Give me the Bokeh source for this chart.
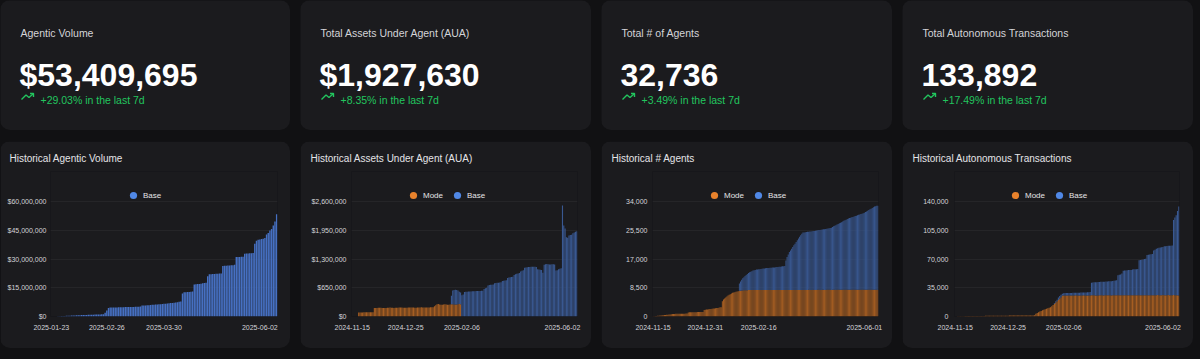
from bokeh.plotting import figure
from bokeh.layouts import row, column
from bokeh.models import (Range1d, FixedTicker, NumeralTickFormatter, Legend,
                          LegendItem, ColumnDataSource)
from bokeh.embed import file_html
from bokeh.resources import INLINE
from bokeh.core.properties import value

# ---------------- data ----------------
card_titles = ["Agentic Volume", "Total Assets Under Agent (AUA)",
               "Total # of Agents", "Total Autonomous Transactions"]
card_values = ["$53,409,695", "$1,927,630", "32,736", "133,892"]
card_changes = ["+29.03% in the last 7d", "+8.35% in the last 7d",
                "+3.49% in the last 7d", "+17.49% in the last 7d"]

chart_titles = ["Historical Agentic Volume", "Historical Assets Under Agent (AUA)",
                "Historical # Agents", "Historical Autonomous Transactions"]
series_names = ["Mode", "Base"]

# Historical Agentic Volume, Base only, daily, USD millions
vol_base_musd = [
    0.10, 0.15, 0.20, 0.25, 0.30, 0.35, 0.40, 0.45, 0.50, 0.55,
    0.58, 0.62, 0.66, 0.70, 0.73, 0.76, 0.80, 0.83, 0.86, 0.90,
    0.93, 0.96, 1.00, 1.03, 1.06, 1.10, 1.13, 1.20,
    1.9, 3.1, 4.5, 4.7,
    4.7, 4.7, 4.75, 4.75, 4.8, 4.8, 4.85, 4.85, 4.9, 4.9, 4.95, 4.95, 5.0, 5.0, 5.05, 5.1, 5.15, 5.2,
    5.7, 5.75, 5.8, 5.85, 5.9, 6.0, 6.1, 6.15, 6.2, 6.3, 6.35, 6.4, 6.5, 6.6, 6.7, 6.8, 6.9, 7.0,
    7.1, 7.2, 7.35, 7.5, 7.65, 7.8,
    12.0, 12.7, 12.7, 12.8, 12.8, 12.9, 13.0,
    16.7, 16.8, 16.9, 17.0, 17.1, 17.3, 17.5, 17.6,
    21.0, 22.1, 22.1, 22.2, 22.2, 22.3, 22.3, 22.4, 22.5,
    26.4, 26.5, 26.5, 26.6, 26.6, 26.7, 26.8, 27.0,
    31.0, 31.1, 31.1, 31.2, 31.2,
    32.8, 32.9, 32.9, 33.0, 33.0, 33.1,
    37.9, 39.5, 40.0, 40.2, 40.4, 40.6, 41.0,
    42.8, 43.6, 44.9, 45.6, 47.5, 49.6, 53.4]
vol_ticks = [-4, 29, 63, 120]
vol_tick_labels = ["2025-01-23", "2025-02-26", "2025-03-30", "2025-06-02"]
vol_y_ticks = [0, 15e6, 30e6, 45e6, 60e6]

# Historical AUA (USD thousands), Mode from index 0, Base from index 71
aua_mode_k = [
    90, 90, 92, 92, 94, 94, 95, 95, 96, 96, 97, 97,
    190, 192, 195, 197, 198, 196, 194, 192, 193, 195,
    198, 200, 201, 199, 197, 195, 196, 198, 200, 202,
    203, 201, 199, 197, 198, 200, 202, 204, 205, 203,
    201, 199, 200, 202, 204, 206, 207, 205, 203, 201,
    202, 204, 206, 208, 209, 210,
    230, 255, 275, 280,
    270, 265, 268, 272, 275, 270, 266, 268, 272, 276, 278, 274, 270, 272, 276, 280, 275]
aua_mode_start = 0
aua_base_k = [
    194, 312, 326, 335, 328, 314, 280, 265,
    480, 500,
    555, 560, 562, 565, 566, 568, 570, 570, 572, 574, 575, 576, 578, 580, 582,
    620, 640, 650,
    700, 710, 716, 720, 725,
    750, 755, 761, 765, 770, 775,
    800, 810, 814, 820,
    870, 880, 889, 895, 900,
    940, 955, 965, 975, 985,
    1020, 1035, 1045,
    1100, 1110, 1115, 1118, 1120, 1122, 1124, 1125, 1125, 1120,
    1070, 1060, 1055, 1050,
    990,
    1170, 1180, 1185, 1180, 1178, 1175, 1180, 1182, 1178,
    1040, 1045,
    1070, 1080, 1090,
    2510,
    2060, 1990,
    1790, 1780,
    1830, 1840, 1850,
    1880, 1900, 1915, 1928]
aua_base_start = 71
aua_ticks = [-5, 36, 79, 156]
aua_tick_labels = ["2024-11-15", "2024-12-25", "2025-02-06", "2025-06-02"]
aua_y_ticks = [0, 650000, 1300000, 1950000, 2600000]

# Historical # Agents, Mode from index 0, Base from index 76
agents_mode = [
    60, 90, 120, 150, 190, 220, 260, 300, 340, 380, 420, 460, 500, 540, 570, 600,
    700, 720, 740, 760, 780, 790, 800, 800, 810, 820, 830, 840, 850, 860, 880,
    1200, 1220, 1240, 1250, 1260, 1270, 1280, 1290, 1300, 1310, 1320, 1330, 1340, 1350,
    1900, 2000, 2050, 2100, 2150, 2200, 2250, 2300, 2350, 2400, 2450, 2500, 2550, 2600, 2700, 2760,
    4500, 5000, 5300, 5600, 5900,
    6200, 6400, 6600, 6800, 7000, 7100, 7200, 7300, 7400, 7500,
    7600, 7650, 7700, 7720, 7740, 7760, 7780, 7790, 7800, 7800,
    7810, 7800, 7820, 7810, 7800, 7830, 7820, 7810, 7800, 7820,
    7830, 7810, 7800, 7820, 7840, 7830, 7810, 7820, 7830, 7840,
    7820, 7810, 7830, 7840, 7850, 7830, 7820, 7840, 7850, 7830,
    7820, 7840, 7850, 7860, 7840, 7830, 7850, 7860, 7840, 7830,
    7850, 7860, 7870, 7850, 7840, 7860, 7870, 7850, 7840, 7860,
    7870, 7880, 7860, 7850, 7870, 7880, 7860, 7850, 7870, 7880,
    7890, 7870, 7860, 7880, 7890, 7870, 7860, 7880, 7890, 7900,
    7880, 7870, 7890, 7900, 7880, 7870, 7890, 7900, 7910, 7890,
    7880, 7900, 7910, 7890, 7880, 7900, 7910, 7920, 7900, 7890,
    7910, 7920, 7900, 7890, 7910, 7920, 7930, 7910, 7900, 7920,
    7930, 7910, 7900, 7920, 7930, 7940, 7920, 7910, 7930, 7940,
    7920, 7900, 7800]
agents_mode_start = 0
agents_base = [
    2150, 2700, 3200, 3600,
    3830, 4200, 4500, 4800, 5050, 5300,
    5450, 5600, 5750, 5850, 5950, 6050,
    6100, 6150, 6200, 6250, 6300, 6350, 6400, 6450, 6500, 6520, 6550, 6600,
    6620, 6650, 6680, 6700, 6750, 6780, 6800, 6850, 6900, 6950, 7000, 7040, 7080,
    8700, 9740, 10500, 11200,
    11700, 12200, 12700, 13200, 13700, 14180,
    14700, 15200, 15700, 16200, 16600, 16940,
    17000, 17050, 17100, 17150, 17200, 17250,
    17300, 17350, 17400, 17450, 17500, 17550,
    17600, 17660, 17720, 17780, 17840, 17900, 17960, 18020, 18080, 18140, 18200, 18300, 18400,
    18580, 18760, 18940, 19120, 19300, 19480, 19660, 19840, 20020, 20200, 20380, 20560,
    20740, 20920, 21100, 21200,
    21300, 21420, 21540, 21660, 21780, 21900, 22020, 22140, 22260, 22380, 22500, 22600,
    22750, 22950, 23150, 23350, 23550, 23750, 23950, 24150, 24350, 24550, 24700, 24850, 24936]
agents_base_start = 76
agents_ticks = [0, 46, 93, 186]
agents_tick_labels = ["2024-11-15", "2024-12-31", "2025-02-16", "2025-06-01"]
agents_y_ticks = [0, 8500, 17000, 25500, 34000]

# Historical Autonomous Transactions, Mode from index 0, Base from index 73
tx_mode = [
    300, 330, 360, 390, 420, 450, 480, 500, 520, 540,
    560, 580, 600, 620, 640, 660, 680, 700, 720, 740,
    760, 780, 800, 820, 840, 860, 880, 900, 920, 940,
    960, 980, 1000, 1010, 1020, 1030, 1040, 1050, 1060, 1070,
    1080, 1090, 1100, 1110, 1120, 1130, 1140, 1150, 1160, 1170,
    1180, 1190, 1200, 1210, 1220, 1230, 1240, 1250,
    1500, 3200, 4300, 5300, 6000, 6800, 7500, 8100, 8700, 9300, 10000, 10600,
    11400, 12500, 14000, 15400, 17000, 18500, 20000, 21700, 23500, 25600,
    25600, 25650, 25700, 25650, 25600, 25550, 25600, 25650, 25700, 25750,
    25700, 25650, 25600, 25650, 25700, 25750, 25700, 25650, 25600, 25650,
    25700, 25750, 25800, 25750, 25700, 25650, 25700, 25750, 25800, 25750,
    25700, 25750, 25800, 25850, 25800, 25750, 25700, 25750, 25800, 25850,
    25800, 25750, 25800, 25850, 25900, 25850, 25800, 25850, 25900, 25850,
    25800, 25850, 25900, 25950, 25900, 25850, 25900, 25950, 25900, 25850,
    25900, 25950, 26000, 25950, 25900, 25950, 26000, 25950, 25900, 25950,
    26000, 26050, 26000, 25950, 26000, 26050, 26000, 25950, 26000, 26050,
    26000, 25950, 26000, 26050, 26000, 25950, 25900, 25600]
tx_mode_start = 0
tx_base = [
    1100, 1500, 2000, 3000, 3300, 2900, 2000,
    2800, 2850, 2900, 2950, 3000, 3050, 3100, 3150, 3200, 3250, 3300, 3350, 3400, 3450,
    3500, 3550, 3600, 3700, 3800, 3900, 4000,
    15400, 15600, 15800, 16000, 16100, 16200, 16300, 16400, 16500, 16600,
    16700, 16800, 16900, 17000, 17100, 17300, 17500, 17700, 17900, 18200,
    24400, 25100, 25400, 26400,
    29900, 30100, 30300, 30500, 30700, 30800, 30900,
    31400, 31500, 31600, 31700, 31800,
    42400, 42800, 43200, 43600, 44000, 44400,
    49000, 49300, 49600, 49900, 50200,
    54400, 55400, 56400, 57000, 57600, 58000, 58300, 58500,
    59400, 59600, 59800, 60000, 60100, 60200, 60300,
    91400,
    94400, 97400,
    102400,
    108292]
tx_base_start = 73
tx_ticks = [-2, 38, 80, 155]
tx_tick_labels = ["2024-11-15", "2024-12-25", "2025-02-06", "2025-06-02"]
tx_y_ticks = [0, 35000, 70000, 105000, 140000]

# ---------------- style ----------------
PAGE_BG = "#111113"
CARD_BG = "#1b1b1e"
FONT = "Liberation Sans"
GREEN = "#22c55e"
VOL_BAR = "#4670c2"
MODE_BAR = "#a65e22"
BASE_BAR = "#395891"
MODE_KEY = "#e8822c"
BASE_KEY = "#5088e6"
LABEL_C = "#d4d4d8"
TITLE_C = "#e4e4e7"

CARD_WIDTHS = [290, 291, 291, 291]
TOP_H = 130
BOT_H = 207
BORDER_TOP = 30          # space above the plotting frame (title)
TICK_TOP = 60            # pixel row of the highest y tick, from card top
BORDER_BOTTOM = 32
ROUND = {"border-radius": "10px", "overflow": "hidden"}


def stat_card(width, title, val, change):
    p = figure(width=width, height=TOP_H, x_range=Range1d(0, width),
               y_range=Range1d(TOP_H, 0), x_axis_type=None, y_axis_type=None,
               toolbar_location=None, output_backend="svg", title=None,
               min_border=0, outline_line_color=None,
               background_fill_color=CARD_BG, border_fill_color=CARD_BG)
    p.text(x=[20], y=[32], text=[title], text_font=value(FONT),
           text_font_size="10.5px", text_color=LABEL_C, text_baseline="alphabetic")
    p.text(x=[19], y=[74], text=[val], text_font=value(FONT),
           text_font_size="32px", text_font_style="bold", text_color="#ffffff",
           text_baseline="alphabetic")
    p.line(x=[21, 25.5, 28.5, 33], y=[99, 94.5, 97, 93], line_color=GREEN, line_width=1.4)
    p.line(x=[29.5, 33, 33], y=[93, 93, 96.5], line_color=GREEN, line_width=1.4)
    p.text(x=[40], y=[99], text=[change], text_font=value(FONT),
           text_font_size="10.5px", text_color=GREEN, text_baseline="alphabetic")
    p.styles = ROUND
    return p


def hist_card(width, title, title_x, x_lo, x_hi, y_max, y_ticks, y_fmt, x_ticks, x_labels,
              b_left, b_right):
    frame_bottom = BOT_H - BORDER_BOTTOM
    y_end = y_max * (frame_bottom - BORDER_TOP) / (frame_bottom - TICK_TOP)
    p = figure(width=width, height=BOT_H, x_range=Range1d(x_lo, x_hi),
               y_range=Range1d(0, y_end), toolbar_location=None, output_backend="svg",
               min_border_left=b_left, min_border_right=b_right,
               min_border_top=BORDER_TOP, min_border_bottom=BORDER_BOTTOM,
               background_fill_color=CARD_BG, border_fill_color=CARD_BG,
               outline_line_color=None)
    p.title.text = title
    p.title.text_font = FONT
    p.title.text_font_size = "10px"
    p.title.text_font_style = "normal"
    p.title.text_color = TITLE_C
    p.title.align = "left"
    p.title.offset = title_x - b_left
    p.title.standoff = 16
    p.xaxis.ticker = FixedTicker(ticks=x_ticks)
    p.xaxis.major_label_overrides = dict(zip(x_ticks, x_labels))
    p.yaxis.ticker = FixedTicker(ticks=y_ticks)
    p.yaxis.formatter = NumeralTickFormatter(format=y_fmt)
    for ax in (p.xaxis[0], p.yaxis[0]):
        ax.axis_line_color = None
        ax.major_tick_line_color = None
        ax.minor_tick_line_color = None
        ax.major_tick_in = 0
        ax.major_tick_out = 0
        ax.major_label_text_font = FONT
        ax.major_label_text_font_size = "7px"
        ax.major_label_text_color = LABEL_C
    p.xaxis.major_label_standoff = 8
    p.yaxis.major_label_standoff = b_left - 46
    p.xgrid.grid_line_color = None
    p.ygrid.grid_line_color = "#252528"
    p.styles = ROUND
    return p


def add_legend(p, items, left_rel, b_left, x_hidden):
    leg_items = []
    for name, color in items:
        # legend key proxy: one point placed outside the visible x range
        r = p.scatter(x=[x_hidden], y=[0], marker="circle", size=7,
                      fill_color=color, line_color=None)
        leg_items.append(LegendItem(label=name, renderers=[r]))
    # legend box bottom sits 63 px below the card top
    leg = Legend(items=leg_items, orientation="horizontal",
                 location=(left_rel - b_left, BOT_H - BORDER_BOTTOM - 63),
                 glyph_width=18, glyph_height=18, label_standoff=1, spacing=5,
                 padding=0, margin=0, label_height=10,
                 label_text_font=FONT, label_text_font_size="8px",
                 label_text_color=TITLE_C,
                 background_fill_alpha=0, border_line_alpha=0)
    p.add_layout(leg)


def stacked(p, mode_vals, mode_start, base_vals, base_start, scale):
    mx = [mode_start + i for i in range(len(mode_vals))]
    mtop = [v * scale for v in mode_vals]
    p.vbar(source=ColumnDataSource(dict(x=mx, top=mtop)), x="x", top="top", bottom=0,
           width=0.85, fill_color=MODE_BAR, line_color=None)
    lookup = dict(zip(mx, mtop))
    bx = [base_start + i for i in range(len(base_vals))]
    bbot = [lookup.get(x, 0) for x in bx]
    btop = [b + v * scale for b, v in zip(bbot, base_vals)]
    p.vbar(source=ColumnDataSource(dict(x=bx, bottom=bbot, top=btop)), x="x",
           top="top", bottom="bottom", width=0.85, fill_color=BASE_BAR, line_color=None)


tops = [stat_card(w, t, v, c)
        for w, t, v, c in zip(CARD_WIDTHS, card_titles, card_values, card_changes)]

# chart 1
n1 = len(vol_base_musd)
p1 = hist_card(CARD_WIDTHS[0], chart_titles[0], 9, -4.5, n1 - 0.5, 60e6, vol_y_ticks, "$0,0",
               vol_ticks, vol_tick_labels, 50, 13)
p1.vbar(source=ColumnDataSource(dict(x=list(range(n1)), top=[v * 1e6 for v in vol_base_musd])),
        x="x", top="top", bottom=0, width=0.85, fill_color=VOL_BAR, line_color=None)
add_legend(p1, [(series_names[1], BASE_KEY)], 124, 50, n1 + 100)

# chart 2
n2 = max(aua_mode_start + len(aua_mode_k), aua_base_start + len(aua_base_k))
p2 = hist_card(CARD_WIDTHS[1], chart_titles[1], 10, -5.5, n2 - 0.5, 2600000, aua_y_ticks, "$0,0",
               aua_ticks, aua_tick_labels, 51, 14)
stacked(p2, aua_mode_k, aua_mode_start, aua_base_k, aua_base_start, 1000)
add_legend(p2, [(series_names[0], MODE_KEY), (series_names[1], BASE_KEY)], 104, 51, n2 + 100)

# chart 3
n3 = max(agents_mode_start + len(agents_mode), agents_base_start + len(agents_base))
p3 = hist_card(CARD_WIDTHS[2], chart_titles[2], 10, -0.5, n3 - 0.5, 34000, agents_y_ticks, "0,0",
               agents_ticks, agents_tick_labels, 51, 14)
stacked(p3, agents_mode, agents_mode_start, agents_base, agents_base_start, 1)
add_legend(p3, [(series_names[0], MODE_KEY), (series_names[1], BASE_KEY)], 104, 51, n3 + 100)

# chart 4
n4 = max(tx_mode_start + len(tx_mode), tx_base_start + len(tx_base))
p4 = hist_card(CARD_WIDTHS[3], chart_titles[3], 10, -2.5, n4 - 0.5, 140000, tx_y_ticks, "0,0",
               tx_ticks, tx_tick_labels, 52, 14)
stacked(p4, tx_mode, tx_mode_start, tx_base, tx_base_start, 1)
add_legend(p4, [(series_names[0], MODE_KEY), (series_names[1], BASE_KEY)], 104, 52, n4 + 100)

root = column(row(*tops, spacing=10), row(p1, p2, p3, p4, spacing=10), spacing=11,
              styles={"background-color": PAGE_BG, "box-shadow": "0 0 0 40px " + PAGE_BG})

open("out.html", "w").write(file_html(root, INLINE))
